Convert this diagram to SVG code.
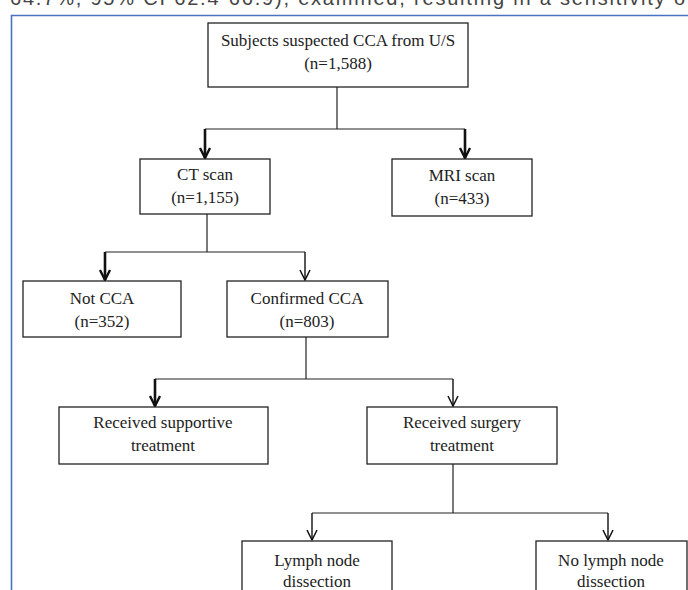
<svg xmlns="http://www.w3.org/2000/svg" width="688" height="590" viewBox="0 0 688 590">
  <style>
    .box { fill: #ffffff; stroke: #222; stroke-width: 1.3; }
    .lbl { font-family: "Liberation Serif", "Times New Roman", serif; font-size: 17px; fill: #222; text-anchor: middle; }
    .ln { fill: none; stroke: #222; stroke-width: 1.2; }
    .thick { fill: none; stroke: #111; stroke-width: 2.6; marker-end: url(#arrThick); }
    .thin { fill: none; stroke: #111; stroke-width: 1.4; marker-end: url(#arrThin); }
    .page { font-family: "Liberation Sans", Arial, sans-serif; font-size: 20px; fill: #444; }
  </style>
  <defs>
    <marker id="arrThick" viewBox="-12 -8 14 16" refX="0" refY="0" markerWidth="14" markerHeight="16" markerUnits="userSpaceOnUse" orient="auto">
      <path d="M-10,-5 L0,0 L-10,5" fill="none" stroke="#111" stroke-width="2.4"/>
    </marker>
    <marker id="arrThin" viewBox="-12 -8 14 16" refX="0" refY="0" markerWidth="14" markerHeight="16" markerUnits="userSpaceOnUse" orient="auto">
      <path d="M-10,-5 L0,0 L-10,5" fill="none" stroke="#111" stroke-width="1.5"/>
    </marker>
  </defs>
  <rect width="688" height="590" fill="#ffffff"/>
  <text class="page" x="10" y="5" textLength="675" lengthAdjust="spacing">64.7%, 95% CI 62.4-66.9), examined, resulting in a sensitivity o</text>
  <path d="M11.5,600 V15.5 H700" fill="none" stroke="#4a72c0" stroke-width="1.6"/>

  <g id="connectors">
    <path class="ln" d="M337,87 V129 M205,129 H465"/>
    <path class="thick" d="M205,129 V158"/>
    <path class="thick" d="M465,129 V158"/>
    <path class="ln" d="M207,214 V252 M105,252 H305"/>
    <path class="thick" d="M105,252 V280"/>
    <path class="thin" d="M305,252 V280"/>
    <path class="ln" d="M306,337 V379 M155,379 H453"/>
    <path class="thick" d="M155,379 V406"/>
    <path class="thin" d="M453,379 V406"/>
    <path class="ln" d="M453,464 V513 M312,513 H608"/>
    <path class="thin" d="M312,513 V540"/>
    <path class="thin" d="M608,513 V540"/>
  </g>

  <g id="n-subjects">
    <rect class="box" x="208" y="23" width="260" height="64"/>
    <text class="lbl" x="338" y="46">Subjects suspected CCA from U/S</text>
    <text class="lbl" x="338" y="69">(n=1,588)</text>
  </g>
  <g id="n-ct">
    <rect class="box" x="140" y="159" width="130" height="55"/>
    <text class="lbl" x="205" y="180">CT scan</text>
    <text class="lbl" x="205" y="203">(n=1,155)</text>
  </g>
  <g id="n-mri">
    <rect class="box" x="392" y="159" width="140" height="57"/>
    <text class="lbl" x="462" y="181">MRI scan</text>
    <text class="lbl" x="462" y="204">(n=433)</text>
  </g>
  <g id="n-notcca">
    <rect class="box" x="23" y="281" width="158" height="56"/>
    <text class="lbl" x="102" y="304">Not CCA</text>
    <text class="lbl" x="102" y="327">(n=352)</text>
  </g>
  <g id="n-confirmed">
    <rect class="box" x="227" y="281" width="161" height="56"/>
    <text class="lbl" x="307" y="304">Confirmed CCA</text>
    <text class="lbl" x="307" y="327">(n=803)</text>
  </g>
  <g id="n-supportive">
    <rect class="box" x="59" y="407" width="209" height="57"/>
    <text class="lbl" x="163" y="428">Received supportive</text>
    <text class="lbl" x="163" y="451">treatment</text>
  </g>
  <g id="n-surgery">
    <rect class="box" x="367" y="407" width="190" height="57"/>
    <text class="lbl" x="462" y="428">Received surgery</text>
    <text class="lbl" x="462" y="451">treatment</text>
  </g>
  <g id="n-lymph">
    <rect class="box" x="242" y="541" width="150" height="60"/>
    <text class="lbl" x="317" y="566">Lymph node</text>
    <text class="lbl" x="317" y="587">dissection</text>
  </g>
  <g id="n-nolymph">
    <rect class="box" x="536" y="541" width="151" height="60"/>
    <text class="lbl" x="611" y="566">No lymph node</text>
    <text class="lbl" x="611" y="587">dissection</text>
  </g>
</svg>
